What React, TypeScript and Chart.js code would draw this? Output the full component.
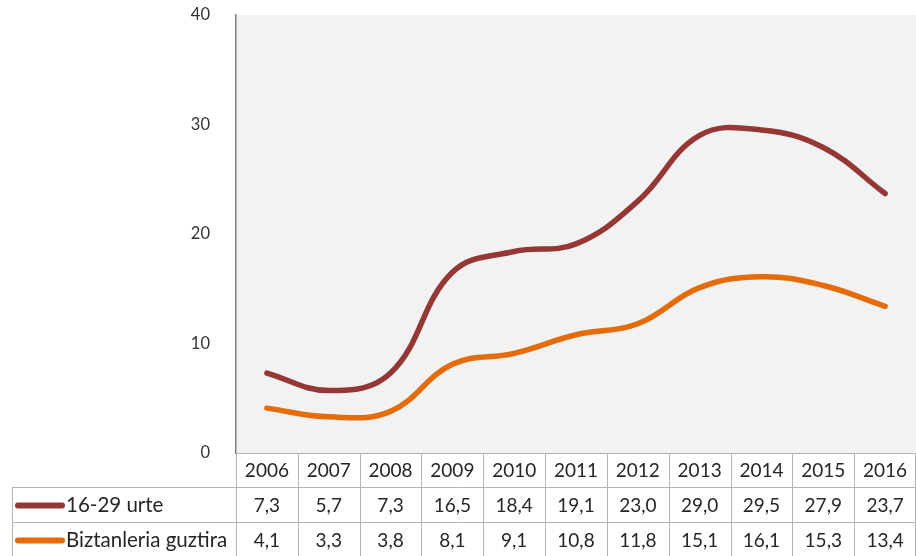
import React, { useEffect, useRef } from "react";
import { Chart, registerables } from "chart.js";

Chart.register(...registerables);

const years = ["2006", "2007", "2008", "2009", "2010", "2011", "2012", "2013", "2014", "2015", "2016"];
const youth = [7.3, 5.7, 7.3, 16.5, 18.4, 19.1, 23.0, 29.0, 29.5, 27.9, 23.7];
const total = [4.1, 3.3, 3.8, 8.1, 9.1, 10.8, 11.8, 15.1, 16.1, 15.3, 13.4];
const seriesNames = ["16-29 urte", "Biztanleria guztira"];
const seriesColors = ["#953735", "#E46C0A"];
const yMin = 0;
const yMax = 40;
const yStep = 10;

const W = 916;
const H = 556;
const FONT = "Lato, 'Open Sans', sans-serif";

const fmt = (v: number) => v.toFixed(1).replace(".", ",");

const tablePlugin = {
  id: "dataTable",
  beforeDraw(chart: any) {
    const { ctx, chartArea: a } = chart;
    ctx.save();
    ctx.fillStyle = "#f2f2f2";
    ctx.fillRect(a.left, a.top, a.right - a.left, a.bottom - a.top);
    ctx.restore();
  },
  afterDraw(chart: any) {
    const { ctx, chartArea: a } = chart;
    const xs = chart.scales.x;
    const colW = xs.getPixelForValue(1) - xs.getPixelForValue(0);
    const top = Math.round(a.bottom);
    const r1 = top + 34;
    const r2 = r1 + 35;
    const bottom = H;
    const rowMid = [(top + r1) / 2, (r1 + r2) / 2, (r2 + r2 + 35) / 2];
    const legendLeft = 12;
    const right = Math.round(a.right) - 1;

    ctx.save();
    ctx.strokeStyle = "#b4b4b4";
    ctx.lineWidth = 1;
    const line = (x1: number, y1: number, x2: number, y2: number) => {
      ctx.beginPath();
      ctx.moveTo(x1, y1);
      ctx.lineTo(x2, y2);
      ctx.stroke();
    };
    line(a.left, top + 0.5, right, top + 0.5);
    line(legendLeft, r1 + 0.5, right, r1 + 0.5);
    line(legendLeft, r2 + 0.5, right, r2 + 0.5);
    line(legendLeft + 0.5, r1, legendLeft + 0.5, bottom);
    for (let i = 0; i < years.length; i++) {
      const bx = Math.round(xs.getPixelForValue(i) - colW / 2) + 0.5;
      line(bx, top, bx, bottom);
    }
    line(right + 0.5, top, right + 0.5, bottom);

    ctx.fillStyle = "#262626";
    ctx.font = `19px ${FONT}`;
    ctx.textAlign = "center";
    ctx.textBaseline = "middle";
    const rowsData = [youth, total];
    years.forEach((y, i) => {
      const cx = xs.getPixelForValue(i);
      ctx.fillText(y, cx, rowMid[0] + 1);
      rowsData.forEach((d, r) => {
        ctx.fillText(fmt(d[i]), cx, rowMid[r + 1] + 1);
      });
    });

    ctx.textAlign = "left";
    ctx.font = `20.5px ${FONT}`;
    seriesNames.forEach((name, r) => {
      const cy = rowMid[r + 1] + 1;
      ctx.strokeStyle = seriesColors[r];
      ctx.lineWidth = 6;
      ctx.lineCap = "round";
      line(18, cy, 62, cy);
      ctx.fillStyle = "#262626";
      ctx.fillText(name, 66, cy);
    });
    ctx.restore();
  },
};

export default function App() {
  const ref = useRef<HTMLCanvasElement>(null);
  useEffect(() => {
    document.body.style.margin = "0";
    const canvas = ref.current!;
    const chart = new Chart(canvas, {
      type: "line",
      data: {
        labels: years,
        datasets: [
          {
            label: seriesNames[0],
            data: youth,
            borderColor: seriesColors[0],
            backgroundColor: seriesColors[0],
            borderWidth: 5.5,
            pointRadius: 0,
            tension: 0.4,
            borderCapStyle: "round",
            borderJoinStyle: "round",
          },
          {
            label: seriesNames[1],
            data: total,
            borderColor: seriesColors[1],
            backgroundColor: seriesColors[1],
            borderWidth: 5.5,
            pointRadius: 0,
            tension: 0.4,
            borderCapStyle: "round",
            borderJoinStyle: "round",
          },
        ],
      },
      options: {
        responsive: false,
        animation: false,
        layout: { padding: { top: 15, bottom: H - 453, left: 0, right: 0 } },
        plugins: {
          legend: { display: false },
          tooltip: { enabled: false },
          title: { display: false },
        },
        scales: {
          x: {
            display: false,
            offset: true,
          },
          y: {
            min: yMin,
            max: yMax,
            ticks: {
              stepSize: yStep,
              padding: 18,
              color: "#333333",
              font: { family: FONT, size: 16.5 },
            },
            grid: { display: false },
            border: { display: true, color: "#7f7f7f", width: 1.5 },
            afterFit: (s: any) => {
              s.width = 236;
              s.paddingTop = 0;
              s.paddingBottom = 0;
            },
          },
        },
      },
      plugins: [tablePlugin],
    });
    return () => chart.destroy();
  }, []);
  return (
    <div style={{ width: W, height: H }}>
      <canvas ref={ref} width={W} height={H} style={{ display: "block" }} />
    </div>
  );
}
